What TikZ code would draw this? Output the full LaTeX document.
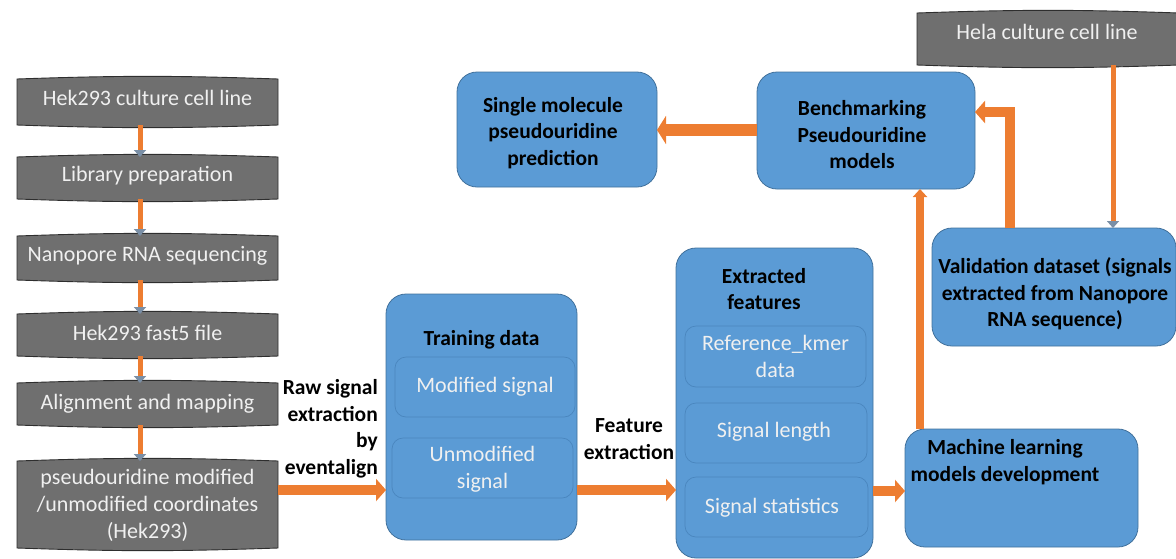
\documentclass[tikz,border=0pt]{standalone}
\usepackage{fontspec}
\setmainfont{Carlito}
\usetikzlibrary{arrows.meta,backgrounds}
\definecolor{obl}{HTML}{5B9BD5}
\definecolor{oblD}{HTML}{41719C}
\definecolor{oblI}{HTML}{4A86BE}
\definecolor{ogr}{HTML}{6F6F6F}
\definecolor{ogrD}{HTML}{2E2E2E}
\definecolor{oor}{HTML}{ED7D31}
\definecolor{ghead}{HTML}{7A8FA6}
\begin{document}
\begin{tikzpicture}[x=1pt,y=-1pt,
  box/.style={inner sep=0pt,outer sep=0pt,draw=none,fill=none},
  gshape/.style={fill=ogr,draw=ogrD,line width=0.9pt},
  bluebox/.style={box,rounded corners=20pt,fill=obl,draw=oblD,line width=0.8pt},
  innerbox/.style={box,rounded corners=11pt,fill=obl,draw=oblI,line width=0.7pt},
  gtxt/.style={text=white!94!black,font=\fontsize{22}{27}\selectfont,align=center,inner sep=0pt},
  wtxt/.style={text=white!94!black,font=\fontsize{22}{26.5}\selectfont,align=center,inner sep=0pt},
  btxt/.style={text=black,font=\fontsize{21.5}{26.5}\selectfont\bfseries,align=center,inner sep=0pt},
  thinarr/.style={draw=oor,line width=5pt,-{Triangle[length=7pt,width=12pt,color=ghead]}},
  bigarr/.style={draw=oor,line width=10pt,-{Triangle[length=10pt,width=22pt,color=oor]}},
  midarr/.style={draw=oor,line width=8pt,-{Triangle[length=8pt,width=14pt,color=oor]}}
]
\useasboundingbox (0,0) rectangle (1176,558);

% gray boxes (placeholders)
\node[box,minimum width=261pt,minimum height=46pt] (g1) at (147.5,102) {};
\node[box,minimum width=261pt,minimum height=42pt] (g2) at (147.5,178) {};
\node[box,minimum width=261pt,minimum height=44pt] (g3) at (147.5,258) {};
\node[box,minimum width=261pt,minimum height=42pt] (g4) at (147.5,335) {};
\node[box,minimum width=261pt,minimum height=42pt] (g5) at (147.5,404) {};
\node[box,minimum width=261pt,minimum height=87pt] (g6) at (147.5,504.5) {};
\node[box,minimum width=262pt,minimum height=52pt] (hela) at (1048,39) {};

\begin{scope}[on background layer]
\foreach \n in {g1,g2,g3,g4,g5,g6,hela}{
  \path[gshape] (\n.north west) to[bend left=2] (\n.north east)
     -- (\n.south east) to[bend left=2] (\n.south west) -- cycle;
}
\end{scope}

\node[gtxt] (t1) at (147.5,98) {Hek293 culture cell line};
\node[gtxt] (t2) at (147.5,176) {Library preparation};
\node[gtxt] (t3) at (147.5,256) {Nanopore RNA sequencing};
\node[gtxt] (t4) at (147.5,333) {Hek293 fast5 file};
\node[gtxt] (t5) at (147.5,404) {Alignment and mapping};
\node[gtxt] (t6) at (147.5,505) {pseudouridine modified\\/unmodified coordinates\\(Hek293)};
\node[gtxt] (th) at (1047,32) {Hela culture cell line};

% blue boxes
\node[bluebox,minimum width=191pt,minimum height=246pt] (train) at (481.5,417) {};
\node[innerbox,minimum width=180pt,minimum height=60pt] (mod) at (485,387) {};
\node[innerbox,minimum width=181pt,minimum height=60pt] (unmod) at (482.5,468) {};
\node[btxt] (ttrain) at (481.5,340) {Training data};
\node[wtxt] (tmod) at (485,387) {Modified signal};
\node[wtxt] (tunmod) at (482.5,469) {Unmodified\\signal};

\node[bluebox,minimum width=197pt,minimum height=310pt] (ext) at (774.5,403) {};
\node[innerbox,minimum width=181pt,minimum height=61pt] (ref) at (775.5,356.5) {};
\node[innerbox,minimum width=182pt,minimum height=60pt] (slen) at (776,433) {};
\node[innerbox,minimum width=183pt,minimum height=60pt] (sstat) at (776.5,507) {};
\node[btxt] (text) at (764,289) {Extracted\\features};
\node[wtxt] (tref) at (775.5,356.5) {Reference\_kmer\\data};
\node[wtxt] (tslen) at (774,432) {Signal length};
\node[wtxt] (tsstat) at (772,508) {Signal statistics};

\node[bluebox,minimum width=233pt,minimum height=118pt] (ml) at (1021.5,488) {};
\node[btxt] (tml) at (1005,462) {Machine learning\\models development};

\node[bluebox,minimum width=244pt,minimum height=118pt] (val) at (1054,287) {};
\node[btxt] (tval) at (1055,294) {Validation dataset (signals\\extracted from Nanopore\\RNA sequence)};

\node[bluebox,minimum width=218pt,minimum height=117pt] (bench) at (866,130.5) {};
\node[btxt] (tbench) at (862,135) {Benchmarking\\Pseudouridine\\models};

\node[bluebox,minimum width=200pt,minimum height=115pt] (single) at (557,129.5) {};
\node[btxt] (tsingle) at (553,133) {Single molecule\\pseudouridine\\prediction};

% labels
\node[btxt,align=right,anchor=east] (lraw) at (378,429) {Raw signal\\extraction\\by\\eventalign};
\node[btxt] (lfeat) at (629,439) {Feature\\extraction};

% helper coordinates
\coordinate (ax) at (140,0);
\coordinate (r1) at (0,490);
\coordinate (r2) at (0,491);
\coordinate (mx) at (920,0);
\coordinate (r3) at (0,130);
\coordinate (hx) at (1113,0);
\coordinate (vx) at (1009.5,0);
\coordinate (r4) at (0,112);

% connectors
\draw[thinarr] (g1.south -| ax) -- (g2.north -| ax);
\draw[thinarr] (g2.south -| ax) -- (g3.north -| ax);
\draw[thinarr] (g3.south -| ax) -- (g4.north -| ax);
\draw[thinarr] (g4.south -| ax) -- (g5.north -| ax);
\draw[thinarr] (g5.south -| ax) -- (g6.north -| ax);
\draw[bigarr] (g6.east |- r1) -- (train.west |- r1);
\draw[bigarr] (train.east |- r1) -- (ext.west |- r1);
\draw[bigarr] (ext.east |- r2) -- (ml.west |- r2);
\draw[midarr] (ml.north -| mx) -- (bench.south -| mx);
\draw[draw=oor,line width=12pt,-{Triangle[length=9pt,width=28pt,color=oor]}] (bench.west |- r3) -- (single.east |- r3);
\draw[thinarr] (hela.south -| hx) -- (val.north -| hx);
\draw[bigarr] (val.north -| vx) |- (bench.east |- r4);
\end{tikzpicture}
\end{document}
